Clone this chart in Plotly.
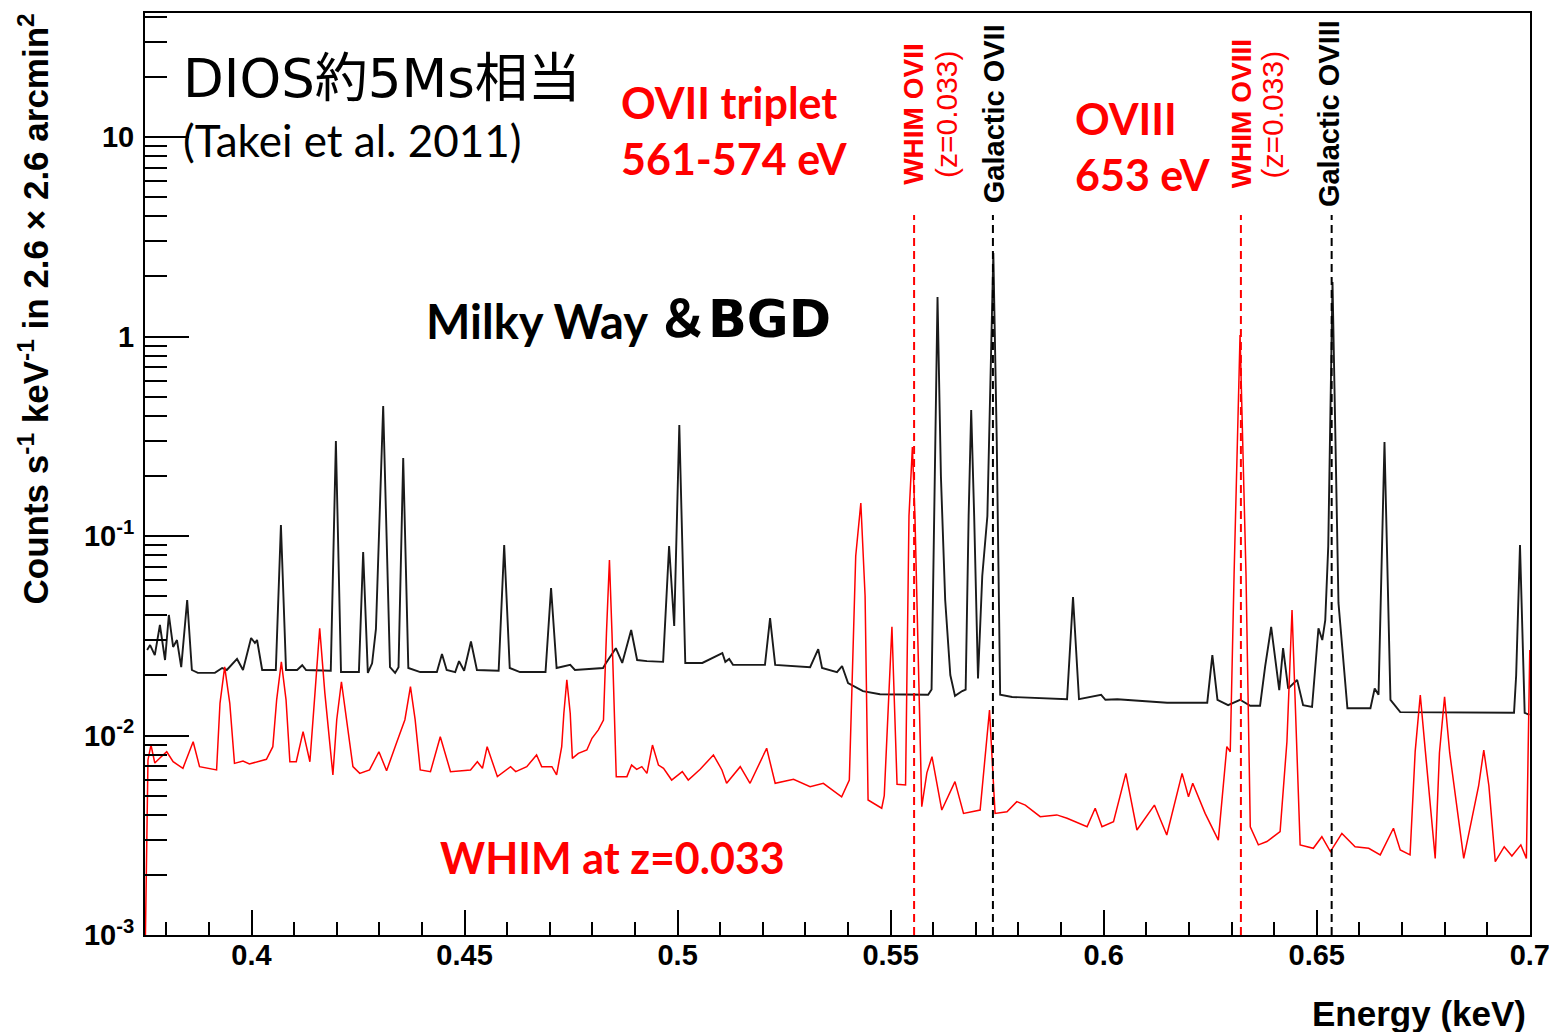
import plotly.graph_objects as go

# Milky Way + background spectrum (black), energies in keV, counts s^-1 keV^-1
black_energy_kev = [
    0.3755, 0.3762, 0.3773, 0.3785, 0.3797, 0.3806, 0.3816, 0.3825, 0.3835, 0.3849,
    0.3860, 0.3874, 0.3914, 0.3931, 0.3942, 0.3966, 0.3980, 0.3999, 0.4008, 0.4013,
    0.4025, 0.4057, 0.4069, 0.4081, 0.4107, 0.4119, 0.4128, 0.4186, 0.4198, 0.4210,
    0.4252, 0.4262, 0.4273, 0.4283, 0.4292, 0.4309, 0.4325, 0.4337, 0.4345, 0.4356,
    0.4368, 0.4396, 0.4435, 0.4447, 0.4458, 0.4478, 0.4487, 0.4499, 0.4515, 0.4529,
    0.4580, 0.4593, 0.4606, 0.4630, 0.4690, 0.4703, 0.4716, 0.4748, 0.4759, 0.4825,
    0.4832, 0.4855, 0.4870, 0.4891, 0.4905, 0.4928, 0.4966, 0.4980, 0.4992, 0.5004,
    0.5018, 0.5058, 0.5105, 0.5112, 0.5121, 0.5130, 0.5205, 0.5217, 0.5229, 0.5311,
    0.5330, 0.5339, 0.5374, 0.5386, 0.5400, 0.5435, 0.5475, 0.5588, 0.5596, 0.5603,
    0.5610, 0.5618, 0.5628, 0.5640, 0.5651, 0.5668, 0.5676, 0.5683, 0.5689, 0.5696,
    0.5705, 0.5715, 0.5727, 0.5741, 0.5749, 0.5757, 0.5785, 0.5914, 0.5928, 0.5942,
    0.5994, 0.6004, 0.6032, 0.6149, 0.6243, 0.6255, 0.6267, 0.6292, 0.6320, 0.6344,
    0.6367, 0.6379, 0.6393, 0.6412, 0.6421, 0.6433, 0.6454, 0.6468, 0.6489, 0.6504,
    0.6513, 0.6520, 0.6527, 0.6537, 0.6544, 0.6551, 0.6572, 0.6626, 0.6636, 0.6645,
    0.6659, 0.6673, 0.6696, 0.6774, 0.6867, 0.6963, 0.6968, 0.6977, 0.6988, 0.6999,
]
black_counts = [
    0.0268, 0.0284, 0.0253, 0.0358, 0.0239, 0.0402, 0.0278, 0.0301, 0.0220, 0.0478,
    0.0213, 0.0206, 0.0206, 0.0218, 0.0213, 0.0242, 0.0213, 0.0308, 0.0291, 0.0301,
    0.0213, 0.0213, 0.1135, 0.0213, 0.0213, 0.0225, 0.0213, 0.0211, 0.299, 0.0208,
    0.0208, 0.0831, 0.0206, 0.0230, 0.0342, 0.448, 0.0220, 0.0206, 0.0220, 0.246,
    0.0218, 0.0208, 0.0208, 0.0256, 0.0213, 0.0208, 0.0236, 0.0211, 0.0296, 0.0213,
    0.0211, 0.0901, 0.0218, 0.0208, 0.0208, 0.0549, 0.0218, 0.0226, 0.0213, 0.0218,
    0.0231, 0.0274, 0.0231, 0.0338, 0.0239, 0.0236, 0.0234, 0.0891, 0.0354, 0.360,
    0.0231, 0.0231, 0.0259, 0.0234, 0.0242, 0.0226, 0.0226, 0.0388, 0.0226, 0.0220,
    0.0271, 0.0218, 0.0208, 0.0223, 0.0183, 0.0167, 0.0161, 0.0160, 0.0170, 0.198,
    1.578, 0.198, 0.0478, 0.0201, 0.0158, 0.0167, 0.0170, 0.126, 0.428, 0.126,
    0.0193, 0.0630, 0.126, 2.62, 0.300, 0.0160, 0.0156, 0.0152, 0.0494, 0.0152,
    0.0160, 0.0151, 0.0152, 0.0146, 0.0146, 0.0253, 0.0151, 0.0142, 0.0151, 0.0141,
    0.0141, 0.0223, 0.0350, 0.0169, 0.0274, 0.0172, 0.0190, 0.0142, 0.0139, 0.0345,
    0.0301, 0.0379, 0.089, 1.875, 0.300, 0.0462, 0.0137, 0.0137, 0.0172, 0.0160,
    0.296, 0.0151, 0.0131, 0.0131, 0.0130, 0.0130, 0.020, 0.0901, 0.0130, 0.0127,
]

# WHIM at z=0.033 spectrum (red)
red_energy_kev = [
    0.3751, 0.3757, 0.3764, 0.3773, 0.3785, 0.3801, 0.3816, 0.3839, 0.3863, 0.3878,
    0.3918, 0.3926, 0.3937, 0.3949, 0.3960, 0.3980, 0.3995, 0.4035, 0.4050, 0.4059,
    0.4070, 0.4081, 0.4090, 0.4105, 0.4121, 0.4137, 0.4149, 0.4160, 0.4172, 0.4191,
    0.4200, 0.4211, 0.4223, 0.4238, 0.4254, 0.4277, 0.4299, 0.4317, 0.4340, 0.4360,
    0.4373, 0.4384, 0.4396, 0.4420, 0.4443, 0.4467, 0.4514, 0.4530, 0.4542, 0.4553,
    0.4577, 0.4608, 0.4620, 0.4639, 0.4646, 0.4669, 0.4681, 0.4705, 0.4716, 0.4728,
    0.4733, 0.4740, 0.4748, 0.4753, 0.4767, 0.4787, 0.4799, 0.4814, 0.4826, 0.4833,
    0.4840, 0.4846, 0.4856, 0.4881, 0.4892, 0.4904, 0.4916, 0.4928, 0.4941, 0.4955,
    0.4967, 0.4986, 0.5011, 0.5025, 0.5053, 0.5084, 0.5104, 0.5115, 0.5147, 0.5170,
    0.5209, 0.5229, 0.5272, 0.5311, 0.5342, 0.5385, 0.5403, 0.5418, 0.5430, 0.5440,
    0.5447, 0.5479, 0.5485, 0.5503, 0.5515, 0.5535, 0.5543, 0.5551, 0.5557, 0.5573,
    0.5585, 0.5597, 0.5620, 0.5651, 0.5671, 0.5710, 0.5732, 0.5745, 0.5773, 0.5796,
    0.5816, 0.5851, 0.5890, 0.5914, 0.5961, 0.5980, 0.5996, 0.6023, 0.6052, 0.6078,
    0.6119, 0.6148, 0.6184, 0.6199, 0.6209, 0.6238, 0.6269, 0.6289, 0.6297, 0.6306,
    0.6320, 0.6334, 0.6344, 0.6363, 0.6383, 0.6414, 0.6430, 0.6442, 0.6453, 0.6461,
    0.6492, 0.6512, 0.6532, 0.6559, 0.6590, 0.6622, 0.6649, 0.6680, 0.6696, 0.6719,
    0.6731, 0.6743, 0.6755, 0.6778, 0.6788, 0.6800, 0.6812, 0.6845, 0.6880, 0.6892,
    0.6904, 0.6919, 0.6940, 0.6958, 0.6979, 0.6992, 0.7000,
]
red_counts = [
    0.00100, 0.00754, 0.00896, 0.00728, 0.00771, 0.00829, 0.00739, 0.00685, 0.00931, 0.00698,
    0.00672, 0.0145, 0.0221, 0.0145, 0.00725, 0.00745, 0.00720, 0.00760, 0.00879, 0.0151,
    0.0234, 0.0151, 0.00739, 0.00739, 0.01045, 0.00739, 0.0164, 0.0345, 0.0164, 0.00634,
    0.0120, 0.0186, 0.0120, 0.00698, 0.00646, 0.00672, 0.00829, 0.00666, 0.00914, 0.0120,
    0.01756, 0.0120, 0.00672, 0.00659, 0.00986, 0.00659, 0.00672, 0.00739, 0.00685, 0.00879,
    0.00622, 0.00698, 0.00659, 0.00685, 0.00698, 0.00799, 0.00698, 0.00698, 0.00634, 0.00879,
    0.0129, 0.0190, 0.0129, 0.00768, 0.00814, 0.00846, 0.00968, 0.01066, 0.01196, 0.0325,
    0.0758, 0.0325, 0.00622, 0.00622, 0.00711, 0.00677, 0.00698, 0.00646, 0.00896, 0.00711,
    0.00685, 0.00598, 0.00659, 0.00598, 0.00677, 0.00799, 0.00672, 0.00576, 0.00698, 0.00576,
    0.00863, 0.00576, 0.00603, 0.00554, 0.00576, 0.00493, 0.00598, 0.0794, 0.1464, 0.0500,
    0.00475, 0.00432, 0.0050, 0.0351, 0.0057, 0.00565, 0.126, 0.279, 0.126, 0.00440,
    0.0065, 0.00783, 0.00423, 0.00587, 0.00407, 0.00423, 0.01342, 0.00407, 0.00415, 0.00466,
    0.00448, 0.00392, 0.00400, 0.00385, 0.00349, 0.00432, 0.00349, 0.00370, 0.00646, 0.00336,
    0.00448, 0.00317, 0.00646, 0.00493, 0.00576, 0.00407, 0.00299, 0.00879, 0.00829, 0.064,
    1.017, 0.064, 0.00349, 0.00283, 0.00294, 0.00330, 0.0093, 0.0426, 0.0093, 0.00283,
    0.00272, 0.00311, 0.00262, 0.00323, 0.00277, 0.00272, 0.00252, 0.00343, 0.00267, 0.00252,
    0.0083, 0.01596, 0.0083, 0.00242, 0.0082, 0.01565, 0.0082, 0.00242, 0.0056, 0.00846,
    0.0056, 0.00233, 0.00277, 0.00249, 0.00283, 0.00242, 0.0268,
]

# O VII / O VIII line markers: WHIM (redshifted) and Galactic rest energies
marker_energies = [0.5555, 0.5740, 0.6322, 0.6535]
marker_colors = ["#ff0000", "#000000", "#ff0000", "#000000"]
marker_top = 4.06

x_tick_values = [0.4, 0.45, 0.5, 0.55, 0.6, 0.65, 0.7]
x_tick_labels = ["0.4", "0.45", "0.5", "0.55", "0.6", "0.65", "0.7"]
y_tick_values = [1e-3, 1e-2, 1e-1, 1, 10]
y_tick_labels = ["10<sup>-3</sup>", "10<sup>-2</sup>", "10<sup>-1</sup>", "1", "10"]
y_minor_values = [k * 10.0 ** e for e in range(-3, 2) for k in range(2, 10) if k * 10.0 ** e < 42]

HELV = "Liberation Sans, Arial, Helvetica, sans-serif"
PPT = "Lato, Noto Sans CJK JP, sans-serif"
GOTHIC = "DejaVu Sans, Noto Sans CJK JP, sans-serif"

fig = go.Figure()

fig.add_trace(go.Scatter(
    x=black_energy_kev, y=black_counts, mode="lines",
    line=dict(color="#1a1a1a", width=1.9), showlegend=False, hoverinfo="skip",
))
fig.add_trace(go.Scatter(
    x=red_energy_kev, y=red_counts, mode="lines",
    line=dict(color="#ff0000", width=1.5), showlegend=False, hoverinfo="skip",
))
for e, c in zip(marker_energies, marker_colors):
    fig.add_trace(go.Scatter(
        x=[e, e], y=[1e-3, marker_top], mode="lines",
        line=dict(color=c, width=2, dash="8px,5px"), showlegend=False, hoverinfo="skip",
    ))

W, H = 1549, 1032
L, R, T, B = 145, 19, 13, 97
PW, PH = W - L - R, H - T - B


def px(xp):
    return (xp - L) / PW


def py(yp):
    return (T + PH - yp) / PH


annotations = [
    # overlay captions
    dict(text="DIOS約5Ms相当", x=px(181), y=py(79), xanchor="left", yanchor="middle",
         font=dict(family=GOTHIC, size=53, color="black")),
    dict(text="(Takei et al. 2011)", x=px(181), y=py(140), xanchor="left", yanchor="middle",
         font=dict(family=PPT, size=44, color="black")),
    dict(text="<b>OVII triplet<br>561-574 eV</b>", x=px(619), y=py(131), xanchor="left",
         yanchor="middle", align="left", font=dict(family=PPT, size=43, color="#ff0000")),
    dict(text="<b>OVIII<br>653 eV</b>", x=px(1073), y=py(146), xanchor="left",
         yanchor="middle", align="left", font=dict(family=PPT, size=43, color="#ff0000")),
    dict(text="<b>Milky Way</b>", x=px(424), y=py(321), xanchor="left", yanchor="middle",
         font=dict(family=PPT, size=47, color="black")),
    dict(text="<b>＆BGD</b>", x=px(655), y=py(319), xanchor="left", yanchor="middle",
         font=dict(family=GOTHIC, size=51, color="black")),
    dict(text="<b>WHIM at z=0.033</b>", x=px(438), y=py(857), xanchor="left", yanchor="middle",
         font=dict(family=PPT, size=43, color="#ff0000")),
    # axis titles
    dict(text="<b>Energy (keV)</b>", x=px(1528), y=py(1013), xanchor="right", yanchor="middle",
         font=dict(family=HELV, size=35, color="black")),
    dict(text="<b>Counts s<sup>-1</sup> keV<sup>-1</sup> in 2.6 × 2.6 arcmin<sup>2</sup></b>",
         x=px(33), y=py(12), xanchor="center", yanchor="top", textangle=-90,
         font=dict(family=HELV, size=35, color="black")),
]

# rotated line identifications
line_labels = [
    ("<b>WHIM OVII</b>", 0.5552, "#ff0000", 28),
    ("(z=0.033)", 0.5630, "#ff0000", 30),
    ("<b>Galactic OVII</b>", 0.5743, "black", 29),
    ("<b>WHIM OVIII</b>", 0.6323, "#ff0000", 28),
    ("(z=0.033)", 0.6396, "#ff0000", 30),
    ("<b>Galactic OVIII</b>", 0.6529, "black", 29),
]
for txt, xe, col, size in line_labels:
    annotations.append(dict(
        text=txt, x=xe, xref="x", y=py(114), yref="paper", xanchor="center",
        yanchor="middle", textangle=-90, showarrow=False,
        font=dict(family=HELV, size=size, color=col),
    ))

for a in annotations:
    a.setdefault("xref", "paper")
    a.setdefault("yref", "paper")
    a["showarrow"] = False

fig.update_layout(
    width=W, height=H, autosize=False,
    margin=dict(l=L, r=R, t=T, b=B, pad=0, autoexpand=False),
    paper_bgcolor="white", plot_bgcolor="white",
    annotations=annotations,
    xaxis=dict(
        range=[0.375, 0.70005], showgrid=False, zeroline=False, automargin=False,
        showline=True, linecolor="black", linewidth=2, mirror=True,
        ticks="inside", ticklen=25, tickwidth=2, tickcolor="black",
        tickmode="array", tickvals=x_tick_values, ticktext=x_tick_labels,
        tickfont=dict(family=HELV, size=29, color="black", weight="bold"),
        ticklabelstandoff=-7, ticklabeloverflow="allow",
        minor=dict(ticks="inside", ticklen=13, tickwidth=2, tickcolor="black",
                   dtick=0.01, tick0=0.4, showgrid=False),
    ),
    yaxis=dict(
        type="log", range=[-3, 1.6216], showgrid=False, zeroline=False, automargin=False,
        showline=True, linecolor="black", linewidth=2, mirror=True,
        ticks="inside", ticklen=44, tickwidth=2, tickcolor="black",
        tickmode="array", tickvals=y_tick_values, ticktext=y_tick_labels,
        tickfont=dict(family=HELV, size=29, color="black", weight="bold"),
        ticklabelstandoff=3,
        minor=dict(ticks="inside", ticklen=22, tickwidth=2, tickcolor="black",
                   tickmode="array", tickvals=y_minor_values, showgrid=False),
    ),
)

fig.write_html("out.html", include_plotlyjs=True, config={"displayModeBar": False})
